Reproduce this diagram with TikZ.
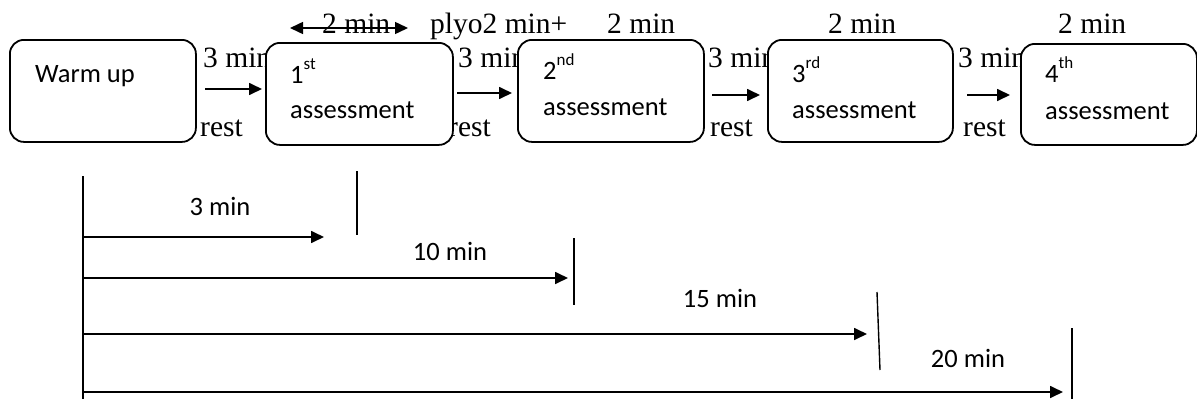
\documentclass[tikz,border=0pt]{standalone}
\usepackage{fontspec}
\setmainfont{Liberation Serif}
\newfontfamily\boxfont{Carlito}
\usetikzlibrary{arrows.meta}

\tikzset{
  stage/.style={draw, line width=1.8pt, rounded corners=14pt, fill=white,
    inner sep=0pt, anchor=north west},
  boxtext/.style={font=\boxfont\fontsize{26.5}{30}\selectfont, anchor=base west, inner sep=0pt},
  lbl/.style={font=\fontsize{29.5}{33}\selectfont, anchor=base west, inner sep=0pt},
  span/.style={font=\boxfont\fontsize{26.5}{30}\selectfont, inner sep=0pt},
  flow/.style={line width=1.7pt, -{Triangle[length=13pt,width=12pt]}},
  both/.style={line width=1.5pt, {Triangle[length=13pt,width=12pt]}-{Triangle[length=13pt,width=12pt]}},
  tick/.style={line width=1.4pt}
}
\newcommand{\ord}[2]{#1\raisebox{0.5em}{\fontsize{17}{18}\selectfont #2}}

\begin{document}
\begin{tikzpicture}[x=1pt, y=-1pt]
\useasboundingbox (0,0) rectangle (1197,399);

% duration labels above the stages
\node[lbl] (d1) at (322,33) {2 min};
\node[lbl] (d2) at (430,33) {plyo2 min+};
\node[lbl] (d3) at (607,33) {2 min};
\node[lbl] (d4) at (828,33) {2 min};
\node[lbl] (d5) at (1058,33) {2 min};
\coordinate (dl) at (290,28);
\coordinate (dr) at (408,28);
\draw[both] (dl) -- (dr);

% rest labels between stages
\foreach \x/\n in {203/1,458/2,708/3,958/4} {
  \node[lbl] (r\n) at (\x,67) {3 min};
}
\foreach \x/\n in {200/1,448/2,710/3,963/4} {
  \node[lbl] (s\n) at (\x,136) {rest};
}

% stages
\node[stage, minimum width=186pt, minimum height=102pt] (w)  at (9,39)   {};
\node[stage, minimum width=187pt, minimum height=102pt] (a1) at (265,42) {};
\node[stage, minimum width=186pt, minimum height=102pt] (a2) at (517,39) {};
\node[stage, minimum width=185pt, minimum height=102pt] (a3) at (767,39) {};
\node[stage, minimum width=176pt, minimum height=101pt] (a4) at (1020,43) {};

\node[boxtext] (tw)  at (35,82)   {Warm up};
\node[boxtext] (t1a) at (290,83)  {\ord{1}{st}};
\node[boxtext] (t1b) at (290,118) {assessment};
\node[boxtext] (t2a) at (543,79)  {\ord{2}{nd}};
\node[boxtext] (t2b) at (543,115) {assessment};
\node[boxtext] (t3a) at (792,82)  {\ord{3}{rd}};
\node[boxtext] (t3b) at (792,118) {assessment};
\node[boxtext] (t4a) at (1045,82) {\ord{4}{th}};
\node[boxtext] (t4b) at (1045,119) {assessment};

% rest arrows
\coordinate (p1) at (205,89);  \coordinate (q1) at (262,89);
\coordinate (p2) at (457,93);  \coordinate (q2) at (512,93);
\coordinate (p3) at (712,95);  \coordinate (q3) at (760,95);
\coordinate (p4) at (967,95);  \coordinate (q4) at (1010,95);
\foreach \n in {1,2,3,4} { \draw[flow] (p\n) -- (q\n); }

% cumulative time line
\coordinate (o0) at (83,176);
\coordinate (o1) at (83,399);
\draw[tick] (o0) -- (o1);

\coordinate (e1) at (324,237);
\coordinate (e2) at (568,278);
\coordinate (e3) at (867,334);
\coordinate (e4) at (1063,392);
\foreach \n in {1,2,3,4} { \draw[flow] (83,0 |- e\n) -- (e\n); }

\coordinate (k1a) at (357,171); \coordinate (k1b) at (357,235);
\coordinate (k2a) at (574,238); \coordinate (k2b) at (574,305);
\coordinate (k3a) at (877,292); \coordinate (k3b) at (880,370);
\coordinate (k4a) at (1072,328); \coordinate (k4b) at (1072,399);
\foreach \n in {1,2,3,4} { \draw[tick] (k\n a) -- (k\n b); }

\node[span] (m1) at (220,206) {3 min};
\node[span] (m2) at (450,251) {10 min};
\node[span] (m3) at (720,298) {15 min};
\node[span] (m4) at (968,358) {20 min};
\end{tikzpicture}
\end{document}
